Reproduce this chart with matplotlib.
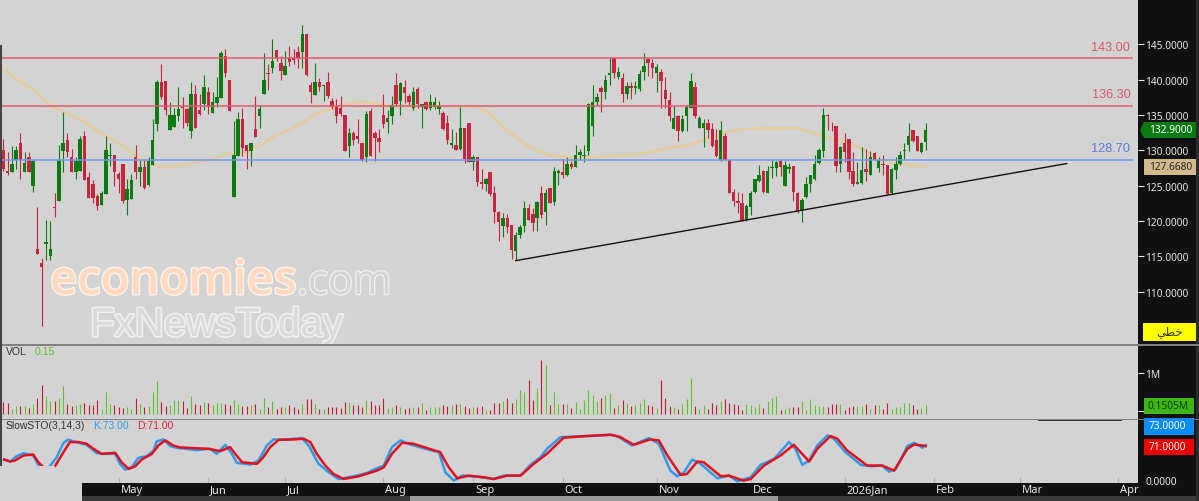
#!/usr/bin/env python3
"""Daily candlestick chart with volume and slow stochastic panes, black price rail on the right."""
import matplotlib
matplotlib.use('Agg')

import matplotlib.pyplot as plt
import matplotlib.patheffects as pe
from matplotlib.patches import Polygon, Rectangle
import numpy as np

opens = [
    130.0, 127.1, 126.9, 128.6, 131.0, 126.9, 129.0, 125.0, 116.0, 114.0,
    116.8, 115.0, 122.0, 122.9, 129.9, 131.4, 129.1, 126.9, 127.1, 132.1,
    126.3, 125.3, 123.6, 122.2, 123.8, 129.2, 129.4, 126.6, 128.0, 123.0,
    123.1, 129.0, 126.9, 127.7, 125.1, 127.9, 133.7, 139.7, 139.8, 132.9,
    133.3, 134.9, 136.2, 135.9, 132.7, 137.9, 135.7, 136.5, 138.3, 135.3,
    136.7, 137.4, 143.4, 140.0, 123.4, 129.2, 134.4, 130.8, 129.9, 133.0,
    134.9, 138.0, 140.9, 141.7, 144.2, 142.4, 140.6, 143.1, 143.0, 143.9,
    143.9, 146.4, 139.2, 137.8, 139.6, 139.1, 139.6, 137.0, 136.2, 136.0,
    135.0, 130.6, 132.5, 132.0, 131.0, 129.1, 135.5, 132.5, 131.8, 135.0,
    134.0, 134.8, 139.2, 137.0, 139.0, 137.7, 136.0, 138.7, 136.1, 136.8,
    136.0, 136.2, 135.8, 135.3, 133.8, 130.7, 130.7, 130.2, 133.1, 133.8,
    128.3, 129.0, 125.5, 125.3, 126.9, 123.9, 121.3, 119.3, 120.5, 119.5,
    115.8, 118.0, 119.3, 121.9, 121.0, 120.5, 123.9, 121.3, 124.7, 122.7,
    126.8, 126.9, 126.5, 128.0, 127.7, 129.3, 129.2, 129.9, 133.4, 136.8,
    138.8, 138.2, 140.7, 143.0, 140.4, 140.3, 138.0, 139.1, 138.8, 138.7,
    141.1, 142.9, 142.4, 140.9, 141.1, 138.6, 137.1, 133.0, 134.8, 132.7,
    134.8, 136.0, 139.0, 133.2, 133.2, 133.8, 133.0, 131.4, 128.6, 132.0,
    128.7, 124.1, 122.9, 122.5, 120.1, 122.0, 124.1, 125.7, 127.1, 123.9,
    127.5, 127.5, 128.5, 125.0, 127.3, 127.8, 124.0, 121.6, 123.4, 125.2,
    125.9, 128.2, 129.9, 135.0, 133.9, 133.5, 128.0, 131.0, 131.6, 127.1,
    125.3, 125.4, 127.4, 126.5, 129.6, 127.5, 128.0, 127.9, 123.9, 127.2,
    128.0, 129.9, 130.7, 132.9, 132.0, 129.7, 131.2,
]
closes = [
    127.3, 126.8, 128.0, 130.1, 128.6, 128.2, 126.9, 128.5, 115.4, 113.5,
    117.1, 116.0, 121.8, 128.6, 131.0, 129.8, 127.0, 128.5, 131.6, 125.8,
    123.2, 123.2, 122.1, 123.9, 130.1, 129.4, 127.0, 125.9, 122.8, 124.6,
    125.8, 126.9, 127.6, 124.7, 128.5, 131.4, 139.7, 137.6, 135.7, 135.0,
    135.0, 135.9, 136.0, 133.8, 137.9, 133.1, 135.1, 139.0, 136.2, 136.9,
    137.6, 143.7, 140.9, 135.6, 129.4, 134.5, 130.4, 129.9, 131.1, 131.9,
    135.9, 140.0, 140.8, 142.6, 143.0, 141.2, 142.0, 142.5, 142.8, 143.0,
    146.4, 140.6, 138.2, 139.7, 139.0, 139.3, 137.7, 136.2, 134.9, 135.2,
    129.9, 132.5, 131.5, 131.6, 128.7, 135.1, 129.2, 131.8, 131.2, 133.7,
    134.6, 136.4, 136.5, 139.5, 138.1, 136.8, 138.3, 136.5, 136.6, 135.8,
    136.8, 136.8, 136.3, 133.0, 131.5, 131.0, 130.1, 133.2, 128.8, 128.4,
    129.0, 125.5, 125.3, 126.0, 123.8, 121.3, 119.9, 120.5, 119.2, 115.9,
    118.0, 119.2, 121.9, 120.2, 119.7, 122.7, 120.8, 123.9, 122.6, 127.1,
    127.1, 126.5, 128.0, 127.7, 129.4, 129.7, 129.4, 136.6, 136.9, 137.6,
    138.2, 140.0, 141.0, 141.0, 141.1, 137.9, 139.1, 138.8, 139.1, 140.8,
    142.0, 142.3, 141.6, 141.8, 139.8, 137.3, 134.8, 134.6, 132.7, 134.4,
    136.1, 139.8, 134.8, 134.6, 133.8, 132.9, 130.6, 129.2, 132.9, 128.7,
    123.9, 122.8, 122.5, 120.0, 122.1, 123.9, 125.9, 126.5, 124.1, 127.1,
    127.7, 128.4, 127.7, 127.9, 127.6, 124.1, 121.3, 123.0, 125.3, 126.5,
    128.0, 130.1, 135.0, 134.8, 133.8, 127.8, 130.5, 129.8, 126.9, 125.2,
    125.5, 127.2, 126.9, 129.0, 128.7, 128.6, 127.9, 123.8, 127.4, 128.0,
    129.3, 130.1, 132.0, 131.3, 129.9, 131.1, 132.9,
]
highs = [
    131.6, 129.7, 130.6, 130.6, 132.4, 129.7, 129.7, 128.6, 122.0, 114.8,
    120.1, 120.0, 123.9, 130.7, 135.4, 132.4, 130.2, 129.1, 132.1, 132.7,
    127.0, 125.8, 123.8, 124.2, 132.1, 131.0, 129.4, 127.0, 128.0, 125.9,
    126.7, 130.8, 128.6, 128.6, 129.1, 134.4, 139.9, 142.2, 139.8, 136.9,
    136.0, 138.9, 137.5, 136.0, 139.7, 139.3, 137.9, 140.6, 139.0, 138.3,
    140.4, 144.1, 144.4, 140.0, 134.2, 135.4, 136.0, 130.8, 131.1, 137.7,
    136.4, 143.8, 142.2, 145.7, 144.2, 143.4, 144.0, 144.7, 144.3, 144.7,
    147.7, 146.4, 139.6, 142.3, 140.3, 139.3, 141.1, 137.4, 137.2, 137.7,
    135.0, 133.2, 132.7, 134.4, 131.1, 135.6, 136.0, 132.7, 133.0, 137.9,
    135.7, 137.7, 140.9, 139.6, 139.9, 138.0, 138.9, 138.9, 136.6, 137.0,
    137.9, 137.6, 137.0, 135.6, 135.0, 133.0, 132.6, 136.2, 133.1, 133.8,
    129.3, 129.0, 127.3, 126.1, 126.9, 124.9, 121.4, 121.1, 121.0, 119.5,
    118.4, 119.4, 122.9, 122.4, 121.9, 122.8, 124.9, 124.5, 124.7, 127.6,
    127.3, 128.8, 129.0, 128.5, 130.7, 130.2, 130.8, 136.7, 139.2, 138.1,
    139.1, 140.6, 143.0, 143.0, 141.8, 141.0, 139.6, 139.6, 139.8, 141.4,
    143.7, 142.9, 142.9, 142.2, 141.5, 140.4, 138.2, 136.3, 135.0, 135.0,
    136.4, 140.9, 139.7, 134.8, 134.5, 134.4, 133.9, 133.0, 134.2, 132.5,
    128.7, 124.5, 124.1, 123.9, 122.4, 124.2, 126.0, 127.9, 127.2, 127.8,
    128.6, 128.5, 128.6, 128.5, 128.2, 127.8, 124.1, 123.2, 126.3, 126.5,
    129.3, 130.4, 136.0, 135.1, 134.0, 133.5, 130.6, 132.4, 131.6, 129.7,
    128.3, 130.5, 130.2, 129.9, 129.7, 129.0, 129.4, 127.9, 127.5, 129.0,
    129.9, 131.0, 133.9, 132.9, 132.0, 131.2, 133.9,
]
lows = [
    127.1, 126.5, 126.9, 127.3, 125.9, 126.9, 126.9, 124.1, 115.3, 105.2,
    114.5, 114.5, 120.6, 122.9, 127.0, 129.0, 127.0, 125.9, 127.1, 125.8,
    123.2, 122.5, 121.6, 122.2, 123.8, 127.8, 125.0, 124.0, 122.5, 120.9,
    123.1, 125.9, 125.0, 124.5, 125.0, 127.9, 132.7, 137.2, 135.0, 132.9,
    133.3, 134.2, 133.1, 133.4, 131.8, 133.1, 135.0, 135.7, 135.1, 135.3,
    136.2, 137.4, 140.4, 135.6, 123.4, 129.2, 129.2, 127.3, 127.8, 131.9,
    133.2, 138.0, 138.5, 140.9, 142.6, 140.0, 140.6, 141.9, 142.2, 141.7,
    141.7, 140.5, 136.7, 137.8, 138.4, 137.0, 137.4, 135.8, 133.8, 134.8,
    129.9, 129.1, 130.7, 131.1, 128.5, 128.3, 129.2, 128.5, 129.7, 133.2,
    132.4, 133.7, 136.3, 135.0, 136.7, 136.4, 135.7, 136.0, 133.1, 135.7,
    135.7, 135.9, 135.1, 132.9, 130.9, 130.4, 130.1, 130.1, 128.2, 128.3,
    127.2, 125.0, 124.6, 124.2, 123.6, 119.7, 117.2, 117.8, 118.3, 114.6,
    114.5, 117.6, 118.4, 120.1, 118.6, 118.6, 120.5, 119.4, 122.5, 122.2,
    125.1, 126.1, 126.4, 127.3, 127.6, 128.6, 128.4, 129.3, 132.0, 136.4,
    135.4, 137.3, 139.2, 140.3, 140.1, 136.8, 137.3, 137.3, 137.9, 138.4,
    140.0, 140.5, 140.3, 138.3, 136.0, 136.0, 134.2, 133.0, 131.3, 132.6,
    132.7, 136.0, 134.6, 133.1, 130.5, 131.8, 130.5, 129.1, 128.5, 128.7,
    123.9, 122.1, 121.2, 120.0, 120.0, 120.8, 124.0, 125.5, 123.9, 123.9,
    126.1, 126.4, 126.4, 125.0, 126.8, 122.8, 121.2, 119.9, 123.3, 124.1,
    125.8, 128.0, 129.0, 132.9, 132.7, 126.9, 126.9, 128.3, 125.9, 125.0,
    125.3, 125.3, 125.7, 126.5, 128.6, 126.9, 126.5, 123.8, 123.8, 126.0,
    127.9, 128.6, 129.9, 131.2, 129.9, 129.6, 130.0,
]
# volume in millions
volumes = [
    .22, .20, .04, .12, .12, .12, .07, .18, .34, .69,
    .38, .25, .25, .34, .66, .18, .13, .16, .18, .20,
    .16, .16, .28, .04, .49, .18, .16, .09, .07, .11,
    .04, .34, .18, .11, .13, .49, .78, .22, .13, .16,
    .28, .28, .27, .07, .40, .18, .16, .22, .20, .16,
    .20, .20, .18, .16, .28, .18, .13, .12, .16, .18,
    .04, .34, .09, .25, .04, .09, .11, .14, .09, .04,
    .18, .31, .31, .18, .04, .04, .11, .11, .11, .07,
    .22, .22, .16, .16, .11, .28, .25, .16, .16, .34,
    .07, .11, .16, .09, .04, .07, .09, .11, .20, .01,
    .11, .09, .11, .16, .13, .16, .18, .18, .13, .07,
    .09, .11, .13, .02, .01, .20, .20,
    .25, .34, .20, .31, .55, .51, .82, .28, .60, 1.35,
    1.22, .16, .49, .18, .18, .18, .07, .22, .04, .28,
    .55, .43, .27, .34, .43, .46, .07, .16, .28, .20,
    .13, .16, .20, .31, .16, .13, .07, .82, .34, .13,
    .11, .04, .18, .31, .87, .13, .04, .16, .04, .20,
    .16, .25, .31, .20, .18, .16, .02, .18, .16, .09,
    .18, .07, .25, .34, .40, .02, .04, .09, .09, .11,
    .25, .02, .31, .16, .13, .13, .11, .18, .18, .18,
    .02, .11, .13, .13, .13, .18, .04, .16, .16, .04,
    .20, .04, .09, .09, .20, .20, .16, .04, .07, .15,
]

ma_days = [1, 4, 7, 8, 12, 15, 19, 23, 25, 29, 32, 36, 39, 43, 46, 50, 54, 57, 61, 65, 68, 71,
           74, 79, 83, 86, 90, 94, 102, 112, 115, 119, 124, 129, 134, 141, 149, 153, 157, 161,
           165, 169, 172, 177, 187, 189, 195, 199, 202, 205, 207, 211, 217]
ma_values = [141.56, 140.05, 139.01, 138.63, 136.37, 135.43, 134.39, 132.74, 132.03, 130.62, 129.2,
             127.93, 127.55, 127.93, 128.4, 128.73, 129.67, 129.58, 130.62, 132.27, 132.88, 133.92,
             135.1, 136.18, 136.75, 136.89, 136.37, 136.28, 136.28, 136.18, 135.1, 132.74, 130.62,
             129.29, 128.96, 129.1, 129.44, 129.81, 130.38, 130.71, 131.42, 132.27, 132.83, 133.07,
             133.16, 132.74, 131.65, 131.09, 130.14, 129.1, 128.49, 128.02, 127.668]

k_days = [1.2, 2.6, 4.1, 5.7, 8, 9.2, 10.4, 11.9, 13.5, 15.1, 16.2, 18.6, 20.5, 22.9, 24.4, 27.2, 28.3,
          29.5, 31.1, 32.6, 34.6, 36.2, 36.9, 38.5, 40.1, 41.6, 46.3, 49.4, 51, 53, 54.5, 55.7, 58.8,
          60.8, 62.7, 64.3, 66.6, 70.9, 72.5, 74.8, 77.2, 79.5, 83, 86.2, 88.1, 90.1, 92, 94, 96.3,
          99.8, 103, 104.5, 106.5, 108.4, 111.9, 115.8, 118.2, 122.1, 124.4, 126.8, 128.3, 131.5,
          136.1, 143.2, 144.7, 148.2, 152.2, 154.5, 157.2, 158.8, 160.4, 162.3, 164.3, 168.2, 170.9,
          172.9, 176, 178.3, 181.5, 185, 186.5, 188.1, 189.7, 191.6, 194, 195.5, 198.2, 201.8, 204.1,
          206.8, 208.4, 210, 212.7, 214.3, 216.2, 217]
k_values = [45.1, 41.3, 51.6, 57.4, 52.9, 34.8, 23.9, 32.2, 49.6, 77.4, 83.2, 77.4, 73.5, 57.4, 56.1, 56.1,
            36.8, 25.8, 30.3, 48.4, 51.6, 62.5, 79.9, 83.8, 70.9, 67.7, 63.2, 65.8, 56.1, 73.5, 56.1, 38.7,
            35.5, 43.2, 72.2, 83.8, 83.2, 86.4, 72.2, 36.8, 20.6, 7.7, 12.9, 19.3, 27.1, 33.5, 69, 81.9, 74.1,
            65.8, 59.3, 20.6, 4.5, 14.2, 12.3, 7.7, 14.2, 14.2, 34.8, 49.6, 65.8, 88.3, 89.6, 92.8, 90.3,
            72.2, 86.4, 75.4, 23.9, 12.9, 20.6, 45.1, 36.8, 9, 14.2, 3.2, 11, 34.8, 46.4, 78.7, 65.8, 34.8,
            43.2, 72.2, 91.6, 85.1, 59.3, 34.8, 32.2, 33.5, 21.9, 27.1, 70.9, 77.4, 67.7, 73]
d_days = [1.2, 2.6, 3.7, 5.7, 8, 9.2, 10.8, 11.9, 13.1, 15.1, 16.6, 18.6, 20.5, 22.1, 24, 27.2, 28.7, 30.3,
          31.9, 33.4, 35.8, 37.3, 38.9, 40.8, 42.4, 45.5, 49, 51.8, 54.1, 55.3, 56.9, 60.4, 61.9, 63.5, 65.5,
          69, 71.3, 72.9, 74.4, 76.4, 78.3, 80.7, 84.2, 88.5, 90.1, 92, 94.4, 97.1, 100.2, 103.3, 105.3,
          107.3, 110, 113.5, 115.8, 119, 122.1, 125.2, 128.3, 132.2, 136.1, 143.2, 145.5, 148.6, 152.5,
          154.5, 156.5, 159.6, 161.1, 163.5, 165, 169, 170.9, 174.4, 176, 179.1, 183, 186.1, 189.7, 191.6,
          194.7, 196.3, 198.6, 203.3, 206.8, 209.6, 212.7, 214.3, 217]
d_values = [45.1, 41.3, 43.2, 52.9, 54.8, 40, 27.1, 23.9, 32.2, 59.3, 78.7, 78.7, 75.4, 65.8, 56.1, 58, 40, 27.1,
            32.2, 45.1, 56.1, 72.2, 81.9, 72.2, 68.3, 67.1, 65.8, 61.3, 69, 56.1, 40, 36.8, 49.6, 69, 83.2,
            83.8, 85.1, 78.7, 56.1, 33.5, 17.4, 7.7, 12.9, 23.9, 30.3, 56.1, 77.4, 75.4, 67.1, 59.3, 30.3,
            9, 14.2, 11, 7.7, 14.2, 14.2, 36.8, 56.1, 87, 89.6, 92.8, 88.3, 73.5, 83.8, 81.9, 52.9, 15.5,
            17.4, 41.3, 40, 12.9, 14.2, 4.5, 7.7, 33.5, 52.9, 73.5, 41.3, 65.8, 90.3, 85.1, 62.5, 33.5, 33.5,
            23.9, 65.8, 74.1, 71]

level_prices = [143.00, 136.30, 128.70]
level_labels = ['143.00', '136.30', '128.70']
level_colors = ['#e35a6c', '#e35a6c', '#7596ee']
level_text_colors = ['#d8586c', '#d8586c', '#5c78dc']

trend_days = [121, 250]
trend_prices = [114.4, 128.13]

price_ticks = [110, 115, 120, 125, 130, 135, 140, 145]
month_days = [28, 49, 67, 90, 111, 132, 154, 176, 198, 219, 239, 262]
month_labels = ['May', 'Jun', 'Jul', 'Aug', 'Sep', 'Oct', 'Nov', 'Dec', '2026Jan', 'Feb', 'Mar', 'Apr']

W, H = 1199, 502
BG = '#d3d3d3'
RAIL = '#111111'
GREEN = '#0b7a12'
RED = '#c9243f'
VOL_GREEN = '#5cc42a'
VOL_RED = '#c8182f'
TICK_FONT = 'Noto Sans'
TICK_SIZE = 7.3


def axes_px(fig, left, top, right, bottom):
    ax = fig.add_axes([left / W, 1 - bottom / H, (right - left) / W, (bottom - top) / H])
    ax.set_facecolor(BG)
    for s in ax.spines.values():
        s.set_visible(False)
    ax.set_xlim(0.227, 266.7)
    ax.set_xticks([])
    ax.yaxis.tick_right()
    ax.tick_params(axis='y', length=4.5, width=0.8, color='#e8e8e8', labelcolor='#e8e8e8',
                   pad=0.7, labelsize=TICK_SIZE)
    return ax


def fig_box(fig, left, top, right, bottom, color, z=20):
    fig.add_artist(Rectangle((left / W, 1 - bottom / H), (right - left) / W, (bottom - top) / H,
                             transform=fig.transFigure, facecolor=color, edgecolor='none', zorder=z))


def fig_label(fig, x, y, s, color, size=TICK_SIZE, ha='left', family=TICK_FONT, **kw):
    fig.text(x / W, 1 - y / H, s, color=color, fontsize=size, ha=ha, va='center',
             family=family, zorder=25, **kw)


def watermark(fig, x, y, s, size, family, fill, stroke, width, weight='normal'):
    fig.text(x / W, 1 - y / H, s, fontsize=size, family=family, color=fill, weight=weight,
             va='baseline', ha='left', zorder=6,
             path_effects=[pe.withStroke(linewidth=width, foreground=stroke)])


def main():
    fig = plt.figure(figsize=(W / 100, H / 100), dpi=100, facecolor=RAIL)

    days = np.arange(1, len(closes) + 1)
    o, c, h, l = map(np.array, (opens, closes, highs, lows))
    colors = np.where(c >= o, GREEN, RED)
    vol_colors = np.where(c >= o, VOL_GREEN, VOL_RED)

    # price pane, 145 sits at y=45.3px and 7.07px per unit
    ax = axes_px(fig, 0, 0, 1138, 345.5)
    ax.set_ylim(145 - (345.5 - 45.3) / 7.07, 145 + 45.3 / 7.07)
    ax.plot(ma_days, ma_values, color='#e2cda0', lw=2.0, zorder=1, solid_joinstyle='round')
    ax.vlines(days, l, h, colors=colors, lw=0.8, zorder=3)
    ax.bar(days, np.maximum(np.abs(c - o), 0.12), bottom=np.minimum(o, c), width=0.8, color=colors, zorder=3)
    for price, label, line_col, text_col in zip(level_prices, level_labels, level_colors, level_text_colors):
        ax.plot([0.227, 265.2], [price, price], color=line_col, lw=1.1, zorder=4)
        ax.text(264.9, price + 1.63, label, color=text_col, fontsize=9.2, ha='right', va='center',
                family='Liberation Sans')
    ax.plot(trend_days, trend_prices, color='#111111', lw=1.0, zorder=5)
    ax.set_yticks(price_ticks)
    ax.set_yticklabels([f'{p:.4f}' for p in price_ticks], family=TICK_FONT)

    watermark(fig, 50, 295, 'economies', 34, 'Open Sans', '#fcd9c0', '#fff1e6', 2.2, weight='semibold')
    watermark(fig, 297, 295, '.com', 30, 'Open Sans', BG, '#f2f2f2', 1.8)
    watermark(fig, 90, 337, 'FxNewsToday', 29, 'Liberation Sans', '#dadada', '#f0f0f0', 2.4)

    # volume pane, bars start a bit under the zero level like the terminal does
    ax_vol = axes_px(fig, 0, 346.5, 1138, 420)
    ax_vol.set_ylim((411.7 - 420) / 37.6, (411.7 - 346.5) / 37.6)
    ax_vol.vlines(days, -0.09, volumes, colors=vol_colors, lw=0.8)
    ax_vol.set_yticks([0, 1])
    ax_vol.set_yticklabels(['', '1M'], family=TICK_FONT)

    # stochastic pane, 0 at y=484px and 100 at y=432px
    ax_sto = axes_px(fig, 0, 421, 1138, 502)
    ax_sto.set_ylim((484 - 502) / 0.52, (484 - 421) / 0.52)
    ax_sto.plot(k_days, k_values, color='#2f9be8', lw=1.8, zorder=2, solid_joinstyle='round')
    ax_sto.plot(d_days, d_values, color='#e0101f', lw=1.8, zorder=3, solid_joinstyle='round')
    ax_sto.vlines(month_days, 0, 11, color='#a9b4c8', lw=0.8, zorder=2)
    ax_sto.set_yticks([0])
    ax_sto.set_yticklabels([''], family=TICK_FONT)

    # patch hiding the lines bottom left
    ax_sto.add_patch(Rectangle((0, 0), 55 / W, 35 / H, transform=fig.transFigure,
                               facecolor=BG, edgecolor='none', zorder=4))

    # date bar and scroll strip
    fig_box(fig, 82, 484, 1199, 497, '#111111', z=10)
    fig_box(fig, 82, 497, 1199, 502, '#3a3a3a', z=10)
    fig_box(fig, 410, 497, 778, 502, '#9a9a9a', z=11)
    fig_box(fig, 1196, 0, 1199, 502, '#2c2c2c', z=11)
    for day, label in zip(month_days, month_labels):
        x = (day - 0.227) / (266.7 - 0.227) * 1138
        fig_label(fig, x + 2, 491, label, '#e8e8e8', size=8)
    fig_label(fig, 1146, 483, '0.0000', '#e8e8e8')

    # pane separators and left edge
    fig_box(fig, 0, 345, 1199, 346.5, '#808080', z=15)
    fig_box(fig, 0, 420, 1199, 421.2, '#808080', z=15)
    fig_box(fig, 0, 46, 1.5, 467, '#444444', z=15)
    fig_box(fig, 1038, 421, 1122, 422, '#333333', z=15)

    # pane captions
    fig_label(fig, 6, 352, 'VOL', '#333333', size=7.5, family='Liberation Sans')
    fig_label(fig, 35, 352, '0.15', '#5cb82a', size=7.5, family='Liberation Sans')
    fig_label(fig, 6, 426.5, 'SlowSTO(3,14,3)', '#333333', size=7.5, family='Liberation Sans')
    fig_label(fig, 93, 426.5, 'K:73.00', '#2f9be8', size=7.5, family='Liberation Sans')
    fig_label(fig, 137, 426.5, 'D:71.00', '#e0202f', size=7.5, family='Liberation Sans')

    # value tags on the right rail
    fig.add_artist(Polygon([(1140 / W, 1 - 131 / H), (1144 / W, 1 - 123 / H), (1196 / W, 1 - 123 / H),
                            (1196 / W, 1 - 139 / H), (1144 / W, 1 - 139 / H)],
                           transform=fig.transFigure, facecolor=GREEN, edgecolor='none', zorder=20))
    fig_label(fig, 1149, 130.5, '132.9000', 'white')
    fig_box(fig, 1144, 160, 1196, 176, '#d3ba8c')
    fig_label(fig, 1149, 167.5, '127.6680', '#222222')
    fig_box(fig, 1143, 324, 1196, 342, '#ffff00')
    fig_label(fig, 1170, 333, '\ufef2\ufec4\ufea7', '#333333', size=8.5, ha='center', family='DejaVu Sans')
    fig_box(fig, 1144, 399, 1193.5, 415, '#3db512')
    fig_label(fig, 1148, 406.5, '0.1505M', '#0f3d08')
    fig_box(fig, 1144, 419, 1193.5, 436, '#0a8cff')
    fig_label(fig, 1149, 427, '73.0000', 'white')
    fig_box(fig, 1144, 440, 1193.5, 456, '#ee0000')
    fig_label(fig, 1149, 447.5, '71.0000', 'white')

    fig.savefig('out.png', dpi=100, facecolor=fig.get_facecolor())
    plt.close(fig)


if __name__ == '__main__':
    main()
